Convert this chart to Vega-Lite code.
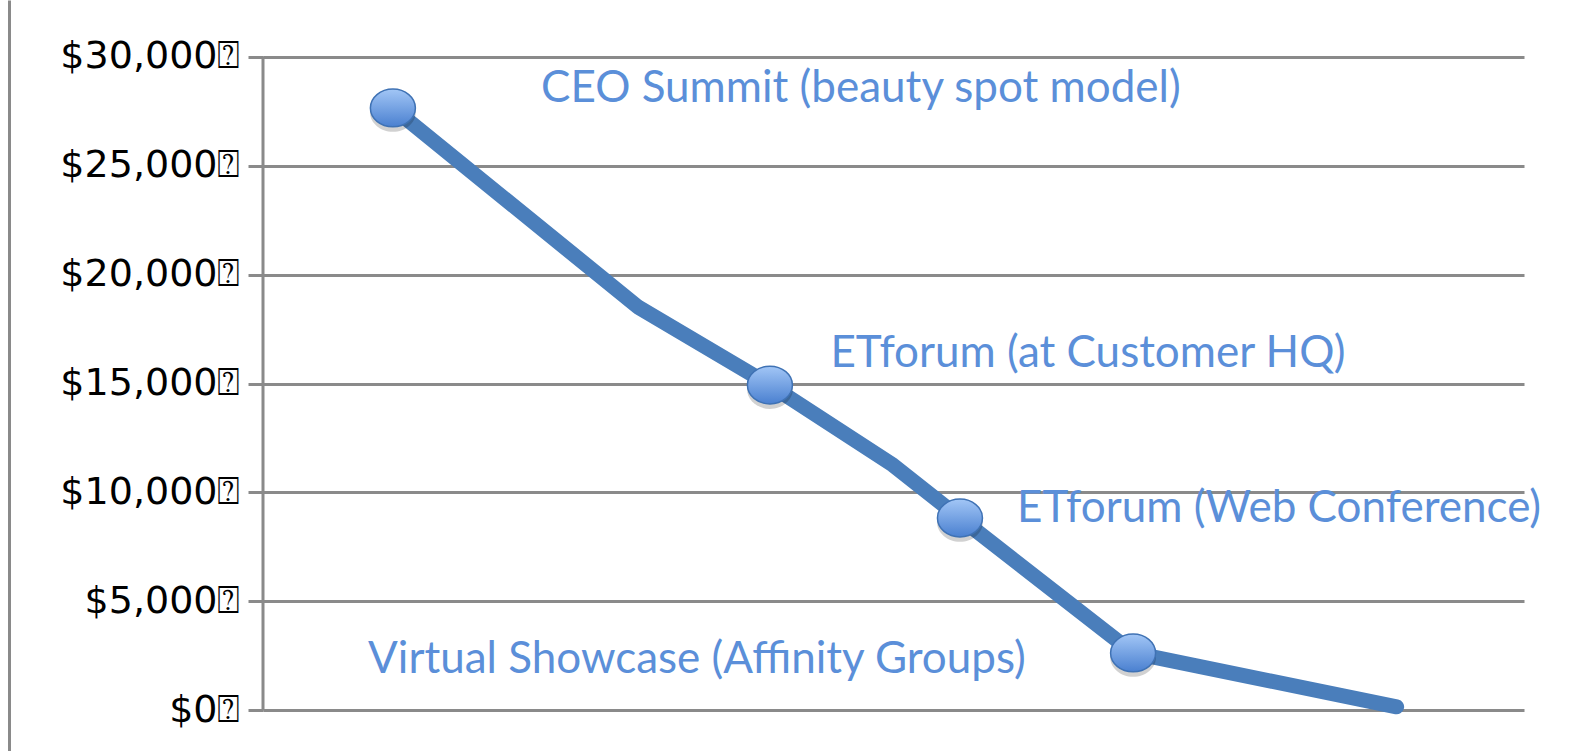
{
  "$schema": "https://vega.github.io/schema/vega-lite/v6.json",
  "autosize": "none",
  "width": 1261,
  "height": 751,
  "padding": {"left": 263, "top": 0, "right": 48, "bottom": 0},
  "background": "white",
  "config": {"view": {"stroke": null}},
  "datasets": {
    "path": [
      {"position": 10.3, "cost": 27640, "marker": true},
      {"position": 29.74, "cost": 18510, "marker": false},
      {"position": 40.2, "cost": 14930, "marker": true},
      {"position": 49.96, "cost": 11260, "marker": false},
      {"position": 55.27, "cost": 8830, "marker": true},
      {"position": 69.0, "cost": 2640, "marker": true},
      {"position": 89.9, "cost": 170, "marker": false}
    ],
    "labels": [
      {"position": 22.05, "cost": 27910, "label": "CEO Summit (beauty spot model)"},
      {"position": 45.0, "cost": 15760, "label": "ETforum (at Customer HQ)"},
      {"position": 59.8, "cost": 8650, "label": "ETforum (Web Conference)"},
      {"position": 8.33, "cost": 1720, "label": "Virtual Showcase (Affinity Groups)"}
    ]
  },
  "layer": [
    {
      "data": {"name": "path"},
      "mark": {"type": "line", "color": "#4a7ebb", "strokeWidth": 15, "strokeCap": "round", "strokeJoin": "round"},
      "encoding": {
        "x": {"field": "position", "type": "quantitative", "scale": {"domain": [0, 100], "nice": false, "zero": false}, "axis": null},
        "y": {
          "field": "cost", "type": "quantitative",
          "scale": {"domain": [-1858, 32592], "nice": false, "zero": false},
          "axis": {
            "orient": "left",
            "values": [0, 5000, 10000, 15000, 20000, 25000, 30000],
            "labelExpr": "format(datum.value, '$,') + '⍰'",
            "title": null,
            "domain": false,
            "grid": true,
            "gridColor": "#8a8a8a",
            "gridWidth": 3,
            "ticks": true,
            "tickSize": 15,
            "tickWidth": 3,
            "tickColor": "#8a8a8a",
            "labelFont": "DejaVu Sans",
            "labelFontSize": 38,
            "labelLimit": 400,
            "labelColor": "#000000",
            "labelPadding": 8
          }
        }
      }
    },
    {
      "data": {"name": "path"},
      "transform": [{"filter": "datum.marker"}],
      "mark": {"type": "point", "filled": true, "shape": "M -1.02,0.18 A 1.02,0.88 0 1,1 1.02,0.18 A 1.02,0.88 0 1,1 -1.02,0.18 Z", "size": 2025, "fill": "#000000", "opacity": 0.18, "strokeWidth": 0},
      "encoding": {
        "x": {"field": "position", "type": "quantitative"},
        "y": {"field": "cost", "type": "quantitative", "axis": {
          "orient": "left", "offset": 254, "domain": true, "domainColor": "#8a8a8a", "domainWidth": 3,
          "labels": false, "ticks": false, "grid": false, "title": null}}
      }
    },
    {
      "data": {"values": [{"edge": 0}]},
      "mark": {"type": "rule", "color": "#8a8a8a", "strokeWidth": 3},
      "encoding": {
        "x": {"field": "edge", "type": "quantitative"},
        "y": {"datum": 0, "type": "quantitative", "axis": null},
        "y2": {"datum": 30000}
      }
    },
    {
      "data": {"name": "path"},
      "transform": [{"filter": "datum.marker"}],
      "mark": {"type": "point", "filled": true, "shape": "M -1,0 A 1,0.84 0 1,1 1,0 A 1,0.84 0 1,1 -1,0 Z", "size": 2025, "opacity": 1,
        "fill": {"gradient": "linear", "x1": 0, "y1": 0, "x2": 0, "y2": 1, "stops": [{"offset": 0, "color": "#a2c6f6"}, {"offset": 1, "color": "#4a80d0"}]},
        "stroke": "#3f72b4", "strokeWidth": 1.5},
      "encoding": {
        "x": {"field": "position", "type": "quantitative"},
        "y": {"field": "cost", "type": "quantitative", "axis": null}
      }
    },
    {
      "data": {"name": "labels"},
      "mark": {"type": "text", "align": "left", "baseline": "alphabetic", "font": "Lato", "fontSize": 44, "color": "#5b8fd9"},
      "encoding": {
        "x": {"field": "position", "type": "quantitative"},
        "y": {"field": "cost", "type": "quantitative", "axis": null},
        "text": {"field": "label"}
      }
    }
  ],
  "resolve": {"axis": {"y": "independent"}}
}
